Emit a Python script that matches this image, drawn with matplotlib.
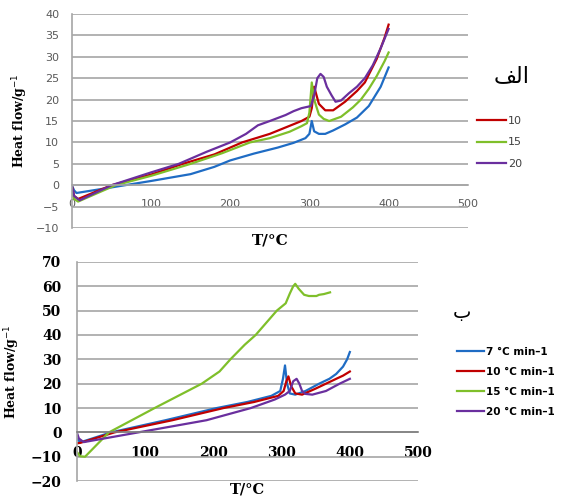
import matplotlib
matplotlib.use('Agg')
import matplotlib.pyplot as plt

# --- panel الف (top) ---
t_blue_a = [0, 3, 6, 50, 100, 150, 180, 200, 230, 260, 280, 295, 300, 303, 306, 312, 320, 330, 345, 360, 375, 390, 400]
hf_blue_a = [0, -1.2, -1.8, -0.5, 1, 2.6, 4.3, 5.8, 7.4, 8.8, 9.9, 11, 12, 15, 12.6, 12, 12, 12.8, 14.2, 15.8, 18.5, 23, 27.5]

t_red_a = [0, 3, 8, 50, 100, 140, 180, 215, 250, 270, 290, 300, 303, 306, 312, 320, 330, 345, 360, 370, 385, 395, 400]
hf_red_a = [0, -2.5, -3.2, 0, 2.5, 5, 7.2, 10, 12, 13.5, 15, 16, 18, 23, 19, 17.5, 17.5, 19.5, 22, 24, 29.5, 34.5, 37.5]

t_green_a = [0, 3, 8, 55, 100, 150, 190, 225, 250, 275, 290, 297, 300, 303, 306, 312, 318, 325, 340, 355, 365, 375, 385, 395, 400]
hf_green_a = [-1.5, -3.2, -3.8, 0, 2.2, 5, 7.5, 10, 11, 12.5, 13.8, 14.5, 17, 24, 20, 16.5, 15.5, 15, 16, 18.2, 20, 22.5, 25.5, 29, 31]

t_purple_a = [0, 3, 10, 50, 100, 135, 170, 200, 220, 235, 250, 270, 280, 290, 302, 306, 310, 314, 318, 322, 328, 333, 340, 350, 360, 370, 380, 390, 400]
hf_purple_a = [0, -2.5, -3.5, 0, 3, 5, 7.8, 10, 12, 14, 15, 16.4, 17.3, 18, 18.5, 21, 25, 26, 25.3, 23, 21, 19.5, 19.8, 21.5, 23, 25, 28, 32, 36.5]

# --- panel ب (bottom) ---
t_blue_b = [0, 3, 6, 50, 130, 205, 250, 285, 298, 302, 305, 308, 312, 320, 335, 355, 370, 380, 390, 396, 400]
hf_blue_b = [-2.5, -3.5, -4, 0, 5, 10, 12.5, 15, 17, 22, 27.5, 20, 16, 15.5, 17, 20, 22, 24, 27, 30, 33]

t_red_b = [0, 5, 55, 140, 215, 260, 295, 303, 307, 310, 314, 320, 330, 350, 365, 380, 390, 400]
hf_red_b = [-4.5, -4.3, 0, 5, 10, 12.5, 15, 17, 21, 23, 19, 16, 15.5, 18, 20, 22, 23.3, 25]

t_green_b = [0, 5, 12, 47, 114, 183, 209, 225, 246, 262, 293, 306, 312, 317, 320, 325, 333, 340, 351, 355, 362, 371]
hf_green_b = [-8, -9.8, -10, 0, 10, 20, 25, 30, 36, 40, 50, 53, 57, 60, 61, 59, 56.5, 56, 56, 56.5, 56.8, 57.5]

t_purple_b = [0, 3, 10, 90, 190, 255, 290, 305, 312, 317, 322, 326, 330, 335, 345, 365, 385, 400]
hf_purple_b = [0, -2.5, -4, 0, 5, 10, 13.5, 15.5, 17, 21, 22, 20, 17, 15.8, 15.5, 17, 20, 22]

BLUE = '#1f6cc4'
RED = '#c00000'
GREEN = '#7fbf2a'
PURPLE = '#6a2f9e'
GRID = '#a6a6a6'

fig = plt.figure(figsize=(5.65, 4.97), dpi=100)

# top panel
ax1 = fig.add_axes([0.127, 0.541, 0.701, 0.431])
ax1.plot(t_blue_a, hf_blue_a, color=BLUE, lw=1.6)
ax1.plot(t_red_a, hf_red_a, color=RED, lw=1.6, label='10')
ax1.plot(t_green_a, hf_green_a, color=GREEN, lw=1.6, label='15')
ax1.plot(t_purple_a, hf_purple_a, color=PURPLE, lw=1.6, label='20')
ax1.set_xlim(0, 500)
ax1.set_ylim(-10, 40)
ax1.set_xticks(range(0, 501, 100))
ax1.set_yticks(range(-10, 41, 5))
ax1.grid(axis='y', color=GRID, lw=1.2)
ax1.set_axisbelow(True)
for s in ['top', 'right']:
    ax1.spines[s].set_visible(False)
ax1.spines['left'].set_color(GRID)
ax1.spines['left'].set_linewidth(1.2)
ax1.spines['bottom'].set_position(('data', 0))
ax1.spines['bottom'].set_color(GRID)
ax1.spines['bottom'].set_linewidth(1.2)
ax1.tick_params(length=0, labelsize=8, labelcolor='#595959')
ax1.tick_params(axis='x', pad=10)
ax1.tick_params(axis='y', pad=9)
ax1.set_ylabel('Heat flow/g$^{-1}$', family='DejaVu Serif', fontweight='bold', fontsize=9, labelpad=4)
ax1.set_xlabel('T/°C', family='DejaVu Serif', fontweight='bold', fontsize=11, va='center')
ax1.xaxis.set_label_coords(0.5, -0.06)
ax1.legend(loc='center left', bbox_to_anchor=(1.023, 0.40), frameon=False, fontsize=8,
           borderpad=0, borderaxespad=0,
           handlelength=2.6, handletextpad=0.2, labelspacing=1.05, labelcolor='#404040')
# الف (pre-shaped presentation forms so the glyphs join)
fig.text(0.906, 0.847, '\ufed2\ufedf\ufe8d', fontsize=16, family='DejaVu Sans', ha='center', va='center')

# bottom panel
ax2 = fig.add_axes([0.136, 0.032, 0.604, 0.441])
ax2.plot(t_blue_b, hf_blue_b, color=BLUE, lw=1.6, label='7 °C min\u20131')
ax2.plot(t_red_b, hf_red_b, color=RED, lw=1.6, label='10 °C min\u20131')
ax2.plot(t_green_b, hf_green_b, color=GREEN, lw=1.6, label='15 °C min\u20131')
ax2.plot(t_purple_b, hf_purple_b, color=PURPLE, lw=1.6, label='20 °C min\u20131')
ax2.set_xlim(0, 500)
ax2.set_ylim(-20, 70)
ax2.set_xticks(range(0, 501, 100))
ax2.set_yticks(range(-20, 71, 10))
ax2.grid(axis='y', color=GRID, lw=1.2)
ax2.set_axisbelow(True)
for s in ['top', 'right']:
    ax2.spines[s].set_visible(False)
ax2.spines['left'].set_color(GRID)
ax2.spines['left'].set_linewidth(1.2)
ax2.spines['bottom'].set_position(('data', 0))
ax2.spines['bottom'].set_color('#808080')
ax2.spines['bottom'].set_linewidth(1.2)
ax2.tick_params(length=0, labelsize=10)
ax2.tick_params(axis='x', pad=10)
ax2.tick_params(axis='y', pad=11)
for lab in ax2.get_xticklabels() + ax2.get_yticklabels():
    lab.set_family('DejaVu Serif')
    lab.set_fontweight('bold')
ax2.set_ylabel('Heat flow/g$^{-1}$', family='DejaVu Serif', fontweight='bold', fontsize=9, labelpad=6)
ax2.set_xlabel('T/°C', family='DejaVu Serif', fontweight='bold', fontsize=10.5, va='center')
ax2.xaxis.set_label_coords(0.5, -0.04)
ax2.legend(loc='center left', bbox_to_anchor=(1.114, 0.453), frameon=False,
           borderpad=0, borderaxespad=0,
           prop={'size': 7.5, 'weight': 'bold'},
           handlelength=2.6, handletextpad=0.2, labelspacing=0.95)
fig.text(0.818, 0.372, '\u0628', fontsize=14, family='DejaVu Sans', ha='center', va='center')

fig.savefig('out.png', dpi=100)
